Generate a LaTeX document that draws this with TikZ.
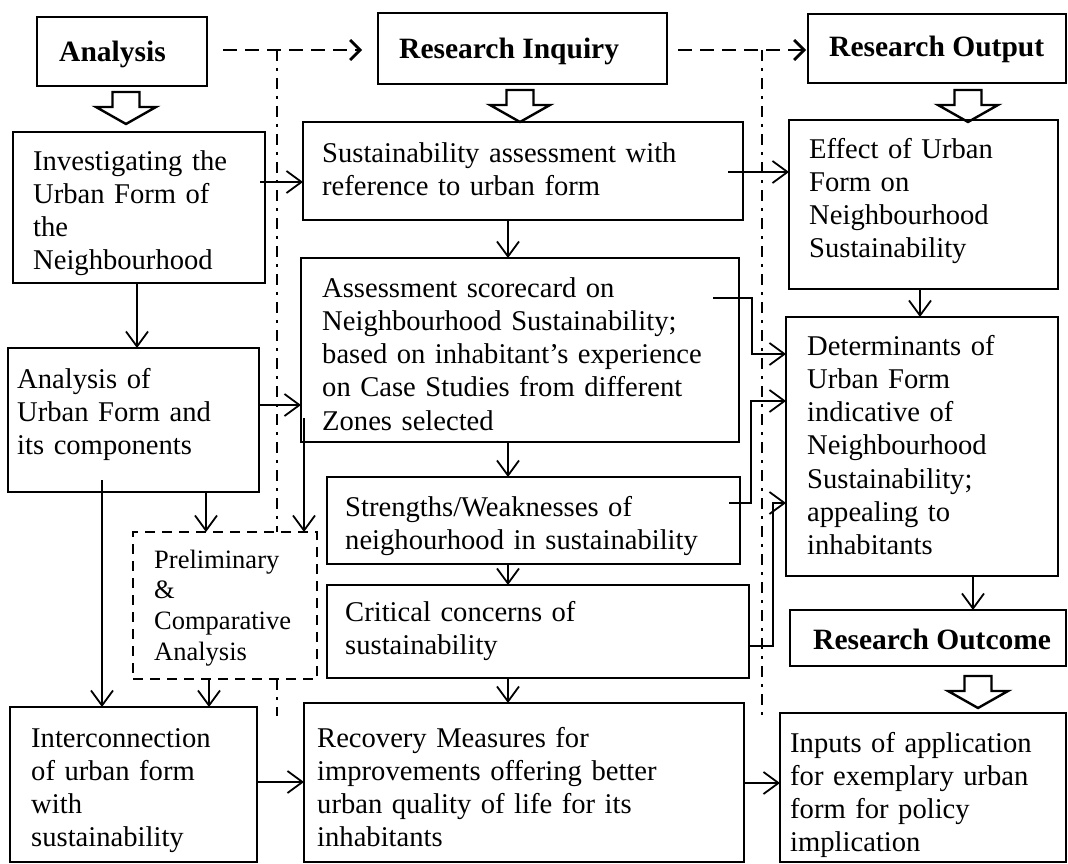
\documentclass[tikz,border=0pt]{standalone}
\usepackage{fontspec}
\setmainfont{Liberation Serif}
\usetikzlibrary{arrows.meta,fit}
\begin{document}
\begin{tikzpicture}[x=1pt,y=-1pt,
  box/.style={draw, line width=1.3pt, inner sep=0pt, outer sep=0pt},
  hdr/.style={draw, line width=2.6pt, inner sep=0pt, outer sep=0pt},
  dbox/.style={draw, line width=2.2pt, dash pattern=on 10pt off 7pt, inner sep=0pt, outer sep=0pt},
  body/.style={anchor=base west, inner sep=0pt, text width=440pt, align=left, font=\fontsize{28.6pt}{33.3pt}\selectfont},
  pretxt/.style={body, font=\fontsize{26.5pt}{30.7pt}\selectfont},
  hdrtxt/.style={anchor=base west, inner sep=0pt, font=\fontsize{29.5pt}{34pt}\selectfont\bfseries},
  conn/.style={line width=1.8pt, -{Straight Barb[length=15pt,width=22pt]}},
  dconn/.style={line width=2.8pt, dash pattern=on 14pt off 8pt, -{Straight Barb[length=10pt,width=20pt]}},
  ddot/.style={line width=2.4pt, dash pattern=on 11pt off 7pt on 3pt off 7pt},
  blockarrow/.pic={\draw[line width=2.4pt, line join=miter, fill=white]
     (-13.5,0) -- (13.5,0) -- (13.5,15) -- (30,15) -- (0,32) -- (-30,15) -- (-13.5,15) -- cycle;}
]
\useasboundingbox (0,0) rectangle (1068,864);

% header boxes
\node[hdr, fit={(37,17) (207,86)}] (ana) {};
\node[hdr, fit={(378,13) (667,84)}] (ri) {};
\node[hdr, fit={(808,14) (1066,83)}] (ro) {};
\node[hdr, fit={(790,610) (1066,666)}] (out) {};
\node[hdrtxt] (ana-t) at (59,62) {Analysis};
\node[hdrtxt] (ri-t) at (399,59) {Research Inquiry};
\node[hdrtxt] (ro-t) at (829,57) {Research Output};
\node[hdrtxt] (out-t) at (813,649) {Research Outcome};

% block arrows
\pic at (126,92) {blockarrow};
\pic at (520,90) {blockarrow};
\pic at (968,90) {blockarrow};
\pic at (978,676) {blockarrow};

% left column
\node[box, fit={(13,132) (265,283)}] (inv) {};
\node[body] (inv-t) at (33,170) {Investigating the\\Urban Form of\\the\\Neighbourhood};
\node[box, fit={(8,348) (259,492)}] (auf) {};
\node[body] (auf-t) at (17,388) {Analysis of\\Urban Form and\\its components};
\node[dbox, fit={(133,532) (317,679)}] (pre) {};
\node[pretxt] (pre-t) at (154,568) {Preliminary\\\&\\Comparative\\Analysis};
\node[box, fit={(10,707) (257,862)}] (int) {};
\node[body] (int-t) at (31,747) {Interconnection\\of urban form\\with\\sustainability};

% middle column
\node[box, fit={(303,122) (743,220)}] (sust) {};
\node[body] (sust-t) at (322,162) {Sustainability assessment with\\reference to urban form};
\node[box, fit={(301,258) (739,442)}] (ass) {};
\node[body] (ass-t) at (322,297) {Assessment scorecard on\\Neighbourhood Sustainability;\\based on inhabitant’s experience\\on Case Studies from different\\Zones selected};
\node[box, fit={(327,477) (740,564)}] (str) {};
\node[body] (str-t) at (345,516) {Strengths/Weaknesses of\\neighourhood in sustainability};
\node[box, fit={(327,585) (749,678)}] (cri) {};
\node[body] (cri-t) at (345,621) {Critical concerns of\\sustainability};
\node[box, fit={(304,703) (744,862)}] (rec) {};
\node[body] (rec-t) at (317,747) {Recovery Measures for\\improvements offering better\\urban quality of life for its\\inhabitants};

% right column
\node[box, fit={(789,120) (1058,289)}] (eff) {};
\node[body] (eff-t) at (809,158) {Effect of Urban\\Form on\\Neighbourhood\\Sustainability};
\node[box, fit={(786,317) (1058,576)}] (det) {};
\node[body] (det-t) at (807,355) {Determinants of\\Urban Form\\indicative of\\Neighbourhood\\Sustainability;\\appealing to\\inhabitants};
\node[box, fit={(780,713) (1066,862)}] (inp) {};
\node[body] (inp-t) at (790,752) {Inputs of application\\for exemplary urban\\form for policy\\implication};

% dashed header arrows
\draw[dconn, shorten <=16pt, shorten >=16pt] (ana.east |- 0,50) -- (ri.west |- 0,50);
\draw[dconn, shorten <=11pt, shorten >=2pt] (ri.east |- 0,50) -- (ro.west |- 0,50);

% dash-dot separators
\coordinate (d1) at (277,50);
\coordinate (d1b) at (277,716);
\draw[ddot] (d1) -- (d1 |- pre.north);
\draw[ddot] (d1 |- pre.south) -- (d1b);
\coordinate (d2) at (762,50);
\coordinate (d2b) at (762,716);
\draw[ddot] (d2) -- (d2b);

% connectors
\draw[conn] ([xshift=-5pt]inv.east |- 0,182) -- (sust.west |- 0,182);
\draw[conn] ([xshift=-15pt]sust.east |- 0,172) -- (eff.west |- 0,172);
\draw[conn] (sust.south -| 508,0) -- (ass.north -| 508,0);
\draw[conn] (inv.south -| 137,0) -- (auf.north -| 137,0);
\draw[conn] (auf.east |- 0,405) -- (ass.west |- 0,405);
\draw[conn] (ass.south -| 508,0) -- (str.north -| 508,0);
\draw[conn] (str.south -| 508,0) -- (cri.north -| 508,0);
\draw[conn] (cri.south -| 508,0) -- (rec.north -| 508,0);
\draw[conn] (eff.south -| 920,0) -- (det.north -| 920,0);
\draw[conn] (det.south -| 973,0) -- (out.north -| 973,0);
\draw[conn] ([yshift=12pt]auf.south -| 102,0) -- (int.north -| 102,0);
\draw[conn] (auf.south -| 206,0) -- (pre.north -| 206,0);
\coordinate (a2p) at (304,418);
\draw[conn] (a2p) -- (a2p |- pre.north);
\draw[conn] (pre.south -| 209,0) -- (int.north -| 209,0);
\draw[conn] (int.east |- 0,782) -- (rec.west |- 0,782);
\draw[conn] (rec.east |- 0,783) -- (inp.west |- 0,783);

% bent connectors to determinants
\coordinate (b1) at (752,298);
\draw[conn] ([xshift=-26pt]ass.east |- b1) -- (b1) |- (det.west |- 0,354);
\coordinate (b2) at (751,503);
\draw[conn] ([xshift=-11pt]str.east |- b2) -- (b2) |- (det.west |- 0,401);
\coordinate (b3) at (773,646);
\draw[conn] (cri.east |- b3) -- (b3) |- (det.west |- 0,503);
\end{tikzpicture}
\end{document}
